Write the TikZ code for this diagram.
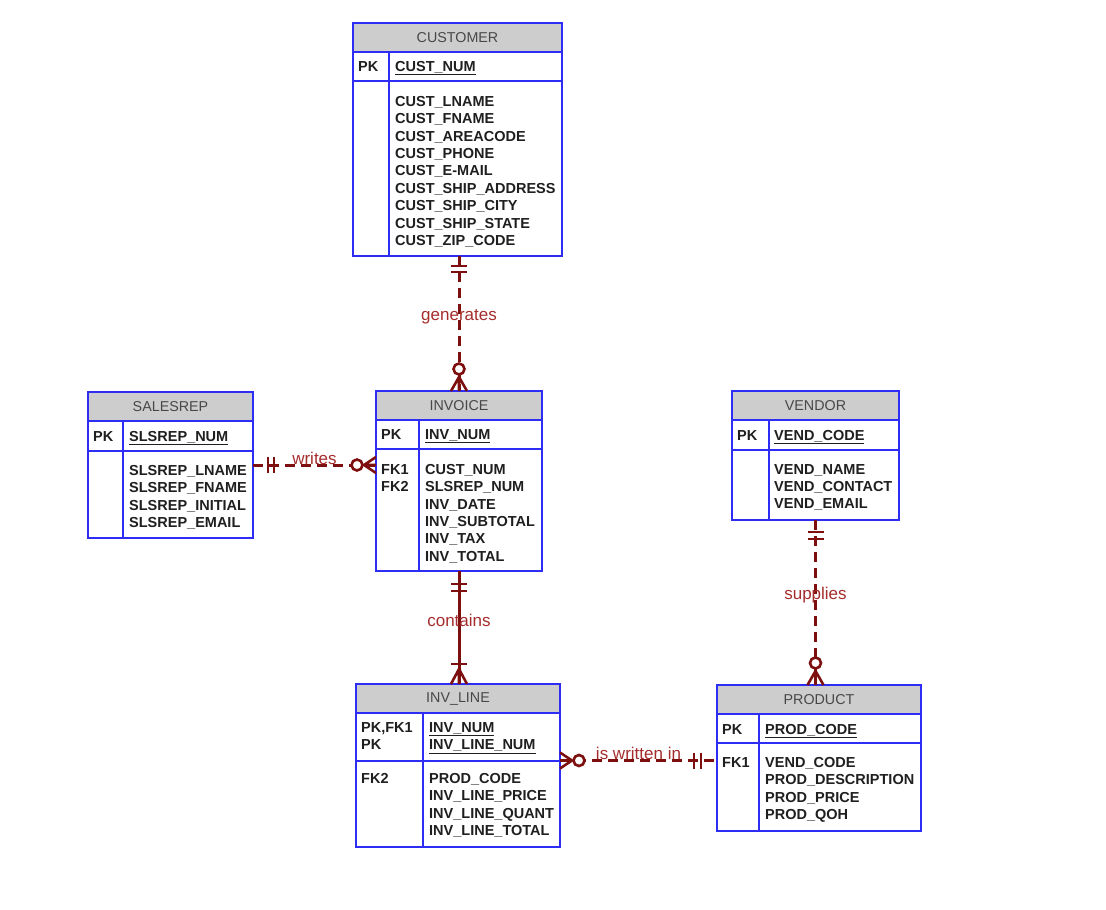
\documentclass[tikz,border=0pt]{standalone}
\usepackage{fontspec}
\setmainfont{Liberation Sans}
\usepackage{tikz}
\usetikzlibrary{positioning,fit,calc}
\definecolor{tabline}{RGB}{45,45,245}
\definecolor{tabhead}{RGB}{205,205,205}
\definecolor{relline}{RGB}{125,15,15}
\definecolor{rellabel}{RGB}{165,45,45}

\begin{document}
\begin{tikzpicture}[x=1pt,y=-1pt,
  tabtitle/.style={draw=tabline,line width=1.6pt,fill=tabhead,anchor=north west,inner sep=0,outer sep=0,
    minimum height=29pt,font=\fontsize{14.3}{17}\selectfont,text=black!72},
  sect/.style={draw=tabline,line width=1.6pt,anchor=north,inner sep=0,outer sep=0},
  tabcol/.style={draw=tabline,line width=1.6pt},
  whole/.style={inner sep=0,outer sep=0},
  attr/.style={anchor=north west,inner sep=0,align=left,
    font=\fontsize{14.5}{17.4}\selectfont\bfseries,text=black!88},
  rel/.style={draw=relline,line width=3pt},
  reldash/.style={rel,dash pattern=on 10pt off 6pt},
  crow/.style={draw=relline,line width=2.6pt},
  ring/.style={crow,fill=white},
  lbl/.style={midway,yshift=7pt,inner sep=0,text=rellabel,font=\fontsize{17}{20}\selectfont}]
\fill[white] (0,0) rectangle (1106,910);
\useasboundingbox (0,0) rectangle (1106,910);

% CUSTOMER
\node[tabtitle,minimum width=209pt] (custT) at (353,23) {CUSTOMER};
\node[sect,minimum width=209pt,minimum height=29pt] (custK) at (custT.south) {};
\node[sect,minimum width=209pt,minimum height=175pt] (custB) at (custK.south) {};
\draw[tabcol] ($(custK.north west)+(36,0)$) -- ($(custB.south west)+(36,0)$);
\node[attr] (custpk) at ($(custK.north west)+(5,9)$) {PK};
\node[attr] (custid) at ($(custK.north west)+(42,9)$) {\underline{CUST\_NUM}};
\node[attr] (custat) at ($(custB.north west)+(42,15)$) {CUST\_LNAME\\CUST\_FNAME\\CUST\_AREACODE\\CUST\_PHONE\\CUST\_E-MAIL\\CUST\_SHIP\_ADDRESS\\CUST\_SHIP\_CITY\\CUST\_SHIP\_STATE\\CUST\_ZIP\_CODE};
\node[whole,fit=(custT)(custB)] (cust) {};

% SALESREP
\node[tabtitle,minimum width=165pt] (salesT) at (88,392) {SALESREP};
\node[sect,minimum width=165pt,minimum height=30pt] (salesK) at (salesT.south) {};
\node[sect,minimum width=165pt,minimum height=87pt] (salesB) at (salesK.south) {};
\draw[tabcol] ($(salesK.north west)+(35,0)$) -- ($(salesB.south west)+(35,0)$);
\node[attr] (salespk) at ($(salesK.north west)+(5,10)$) {PK};
\node[attr] (salesid) at ($(salesK.north west)+(41,10)$) {\underline{SLSREP\_NUM}};
\node[attr] (salesat) at ($(salesB.north west)+(41,14)$) {SLSREP\_LNAME\\SLSREP\_FNAME\\SLSREP\_INITIAL\\SLSREP\_EMAIL};
\node[whole,fit=(salesT)(salesB)] (sales) {};

% INVOICE
\node[tabtitle,minimum width=166pt] (invT) at (376,391) {INVOICE};
\node[sect,minimum width=166pt,minimum height=29pt] (invK) at (invT.south) {};
\node[sect,minimum width=166pt,minimum height=122pt] (invB) at (invK.south) {};
\draw[tabcol] ($(invK.north west)+(43,0)$) -- ($(invB.south west)+(43,0)$);
\node[attr] (invpk) at ($(invK.north west)+(5,9)$) {PK};
\node[attr] (invid) at ($(invK.north west)+(49,9)$) {\underline{INV\_NUM}};
\node[attr] (invfk) at ($(invB.north west)+(5,15)$) {FK1\\FK2};
\node[attr] (invat) at ($(invB.north west)+(49,15)$) {CUST\_NUM\\SLSREP\_NUM\\INV\_DATE\\INV\_SUBTOTAL\\INV\_TAX\\INV\_TOTAL};
\node[whole,fit=(invT)(invB)] (inv) {};

% VENDOR
\node[tabtitle,minimum width=167pt] (vendT) at (732,391) {VENDOR};
\node[sect,minimum width=167pt,minimum height=30pt] (vendK) at (vendT.south) {};
\node[sect,minimum width=167pt,minimum height=70pt] (vendB) at (vendK.south) {};
\draw[tabcol] ($(vendK.north west)+(37,0)$) -- ($(vendB.south west)+(37,0)$);
\node[attr] (vendpk) at ($(vendK.north west)+(5,10)$) {PK};
\node[attr] (vendid) at ($(vendK.north west)+(42,10)$) {\underline{VEND\_CODE}};
\node[attr] (vendat) at ($(vendB.north west)+(42,14)$) {VEND\_NAME\\VEND\_CONTACT\\VEND\_EMAIL};
\node[whole,fit=(vendT)(vendB)] (vend) {};

% INV_LINE
\node[tabtitle,minimum width=204pt] (invlT) at (356,684) {INV\_LINE};
\node[sect,minimum width=204pt,minimum height=48pt] (invlK) at (invlT.south) {};
\node[sect,minimum width=204pt,minimum height=86pt] (invlB) at (invlK.south) {};
\draw[tabcol] ($(invlK.north west)+(67,0)$) -- ($(invlB.south west)+(67,0)$);
\node[attr] (invlpk) at ($(invlK.north west)+(5,9)$) {PK,FK1\\PK};
\node[attr] (invlid) at ($(invlK.north west)+(73,9)$) {\underline{INV\_NUM}\\\underline{INV\_LINE\_NUM}};
\node[attr] (invlfk) at ($(invlB.north west)+(5,12)$) {FK2};
\node[attr] (invlat) at ($(invlB.north west)+(73,12)$) {PROD\_CODE\\INV\_LINE\_PRICE\\INV\_LINE\_QUANT\\INV\_LINE\_TOTAL};
\node[whole,fit=(invlT)(invlB)] (invl) {};

% PRODUCT
\node[tabtitle,minimum width=204pt] (prodT) at (717,685) {PRODUCT};
\node[sect,minimum width=204pt,minimum height=29pt] (prodK) at (prodT.south) {};
\node[sect,minimum width=204pt,minimum height=88pt] (prodB) at (prodK.south) {};
\draw[tabcol] ($(prodK.north west)+(42,0)$) -- ($(prodB.south west)+(42,0)$);
\node[attr] (prodpk) at ($(prodK.north west)+(5,10)$) {PK};
\node[attr] (prodid) at ($(prodK.north west)+(48,10)$) {\underline{PROD\_CODE}};
\node[attr] (prodfk) at ($(prodB.north west)+(5,14)$) {FK1};
\node[attr] (prodat) at ($(prodB.north west)+(48,14)$) {VEND\_CODE\\PROD\_DESCRIPTION\\PROD\_PRICE\\PROD\_QOH};
\node[whole,fit=(prodT)(prodB)] (prod) {};

% generates
\coordinate (gen) at (cust.south -| inv.north);
\draw[reldash] (gen) -- (inv.north) node[lbl] (genlbl) {generates};
\draw[crow] ($(gen)+(-8,10)$) -- ++(16,0) ($(gen)+(-8,16)$) -- ++(16,0);
\draw[crow] ($(inv.north)+(-8,0)$) -- ($(inv.north)+(0,-14)$) -- ($(inv.north)+(8,0)$)
  ($(inv.north)+(0,-14)$) -- (inv.north);
\draw[ring] ($(inv.north)+(0,-22)$) circle (5.5);

% writes
\coordinate (wri) at (sales.east -| inv.west);
\draw[reldash] (sales.east) -- (wri) node[lbl] (wrilbl) {writes};
\draw[crow] ($(sales.east)+(15,-8)$) -- ++(0,16) ($(sales.east)+(21,-8)$) -- ++(0,16);
\draw[crow] ($(wri)+(0,-8)$) -- ($(wri)+(-12,0)$) -- ($(wri)+(0,8)$)
  ($(wri)+(-12,0)$) -- (wri);
\draw[ring] ($(wri)+(-19,0)$) circle (5.5);

% contains
\coordinate (con) at (inv.south |- invl.north);
\draw[rel] (inv.south) -- (con) node[lbl] (conlbl) {contains};
\draw[crow] ($(inv.south)+(-8,13)$) -- ++(16,0) ($(inv.south)+(-8,20)$) -- ++(16,0);
\draw[crow] ($(con)+(-8,-20)$) -- ++(16,0);
\draw[crow] ($(con)+(-8,0)$) -- ($(con)+(0,-15)$) -- ($(con)+(8,0)$)
  ($(con)+(0,-15)$) -- (con);

% supplies
\coordinate (sup) at (vend.south |- prod.north);
\draw[reldash] (vend.south) -- (sup) node[lbl] (suplbl) {supplies};
\draw[crow] ($(vend.south)+(-8,12)$) -- ++(16,0) ($(vend.south)+(-8,19)$) -- ++(16,0);
\draw[crow] ($(sup)+(-8,0)$) -- ($(sup)+(0,-14)$) -- ($(sup)+(8,0)$)
  ($(sup)+(0,-14)$) -- (sup);
\draw[ring] ($(sup)+(0,-22)$) circle (5.5);

% is written in
\coordinate (iwi) at ($(invl.east)+(0,-5)$);
\coordinate (iwo) at (iwi -| prod.west);
\draw[reldash] (iwi) -- (iwo) node[lbl] (iwlbl) {is written in};
\draw[crow] ($(iwi)+(0,-8)$) -- ($(iwi)+(12,0)$) -- ($(iwi)+(0,8)$)
  ($(iwi)+(12,0)$) -- (iwi);
\draw[ring] ($(iwi)+(19,0)$) circle (5.5);
\draw[crow] ($(iwo)+(-23,-8)$) -- ++(0,16) ($(iwo)+(-16,-8)$) -- ++(0,16);
\end{tikzpicture}
\end{document}
